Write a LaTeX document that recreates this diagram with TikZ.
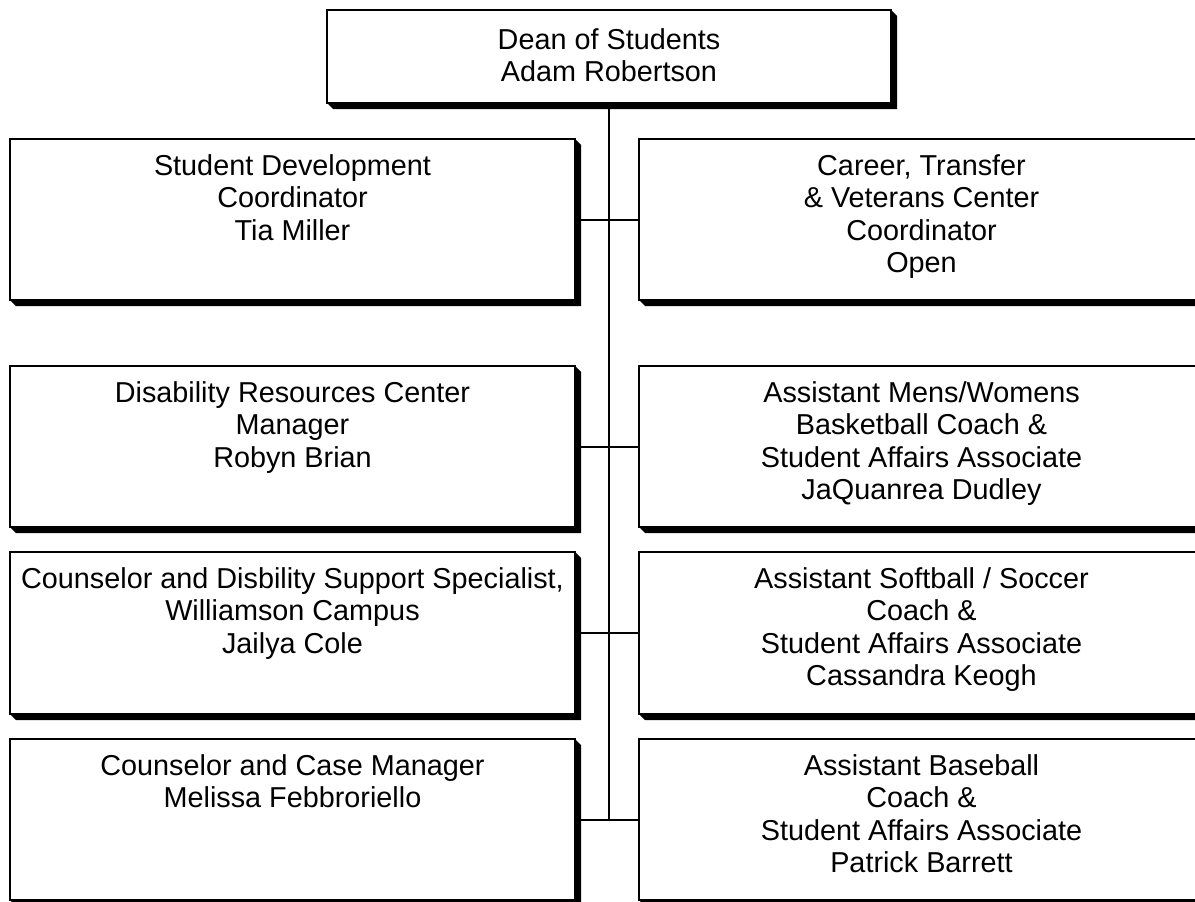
\documentclass[tikz,border=0pt]{standalone}
\usepackage{fontspec}
\setmainfont{Liberation Sans}
\pgfdeclarelayer{background}
\pgfsetlayers{background,main}
\tikzset{
  box/.style={draw, line width=2pt, fill=white, minimum width=565pt, minimum height=161pt, inner sep=0pt, outer sep=0pt},
  txt/.style={anchor=base, inner sep=0pt, font=\fontsize{28.8}{32.4}\selectfont},
  conn/.style={line width=2pt}
}
\newcommand{\boxshadow}[1]{%
  \begin{pgfonlayer}{background}
  \fill (#1.south west) -- ([xshift=6pt,yshift=-6pt]#1.south west) -- ([xshift=6pt,yshift=-6pt]#1.south east) -- ([xshift=6pt,yshift=-6pt]#1.north east) -- (#1.north east) -- cycle;
  \end{pgfonlayer}}
\newcommand{\ttab}[1]{\begin{tabular}[t]{@{}c@{}}#1\end{tabular}}
\begin{document}
\begin{tikzpicture}[x=1pt,y=-1pt]
\clip (0,0) rectangle (1195,902);
% top box
\node[box, minimum width=564pt, minimum height=93pt] (top) at (609,56.5) {};
\boxshadow{top}
\node[txt] (topt) at ([yshift=-39pt]top.north) {\ttab{Dean of Students\\Adam Robertson}};
% left column
\node[box] (L1) at (292.5,219.5) {};
\node[box] (L2) at (292.5,446.5) {};
\node[box, minimum height=162pt] (L3) at (292.5,633) {};
\node[box] (L4) at (292.5,819.5) {};
% right column
\node[box] (R1) at (921.5,219.5) {};
\node[box] (R2) at (921.5,446.5) {};
\node[box, minimum height=162pt] (R3) at (921.5,633) {};
\node[box] (R4) at (921.5,819.5) {};
\boxshadow{L1}\boxshadow{L2}\boxshadow{L3}\boxshadow{L4}
\boxshadow{R1}\boxshadow{R2}\boxshadow{R3}\boxshadow{R4}
% texts
\node[txt] (L1t) at ([yshift=-36.5pt]L1.north) {\ttab{Student Development\\Coordinator\\Tia Miller}};
\node[txt] (L2t) at ([yshift=-36.5pt]L2.north) {\ttab{Disability Resources Center\\Manager\\Robyn Brian}};
\node[txt] (L3t) at ([yshift=-36.5pt]L3.north) {\ttab{Counselor and Disbility Support Specialist,\\Williamson Campus\\Jailya Cole}};
\node[txt] (L4t) at ([yshift=-36.5pt]L4.north) {\ttab{Counselor and Case Manager\\Melissa Febbroriello}};
\node[txt] (R1t) at ([yshift=-36.5pt]R1.north) {\ttab{Career, Transfer\\\& Veterans Center\\Coordinator\\Open}};
\node[txt] (R2t) at ([yshift=-36.5pt]R2.north) {\ttab{Assistant Mens/Womens\\Basketball Coach \&\\Student Affairs Associate\\JaQuanrea Dudley}};
\node[txt] (R3t) at ([yshift=-36.5pt]R3.north) {\ttab{Assistant Softball / Soccer\\Coach \&\\Student Affairs Associate\\Cassandra Keogh}};
\node[txt] (R4t) at ([yshift=-36.5pt]R4.north) {\ttab{Assistant Baseball\\Coach \&\\Student Affairs Associate\\Patrick Barrett}};
% connectors
\draw[conn] (top.south) -- (top.south |- L4.east);
\draw[conn] ([xshift=6pt]L1.east) -- (R1.west);
\draw[conn] ([xshift=6pt]L2.east) -- (R2.west);
\draw[conn] ([xshift=6pt]L3.east) -- (R3.west);
\draw[conn] ([xshift=6pt]L4.east) -- (R4.west);
\end{tikzpicture}
\end{document}
